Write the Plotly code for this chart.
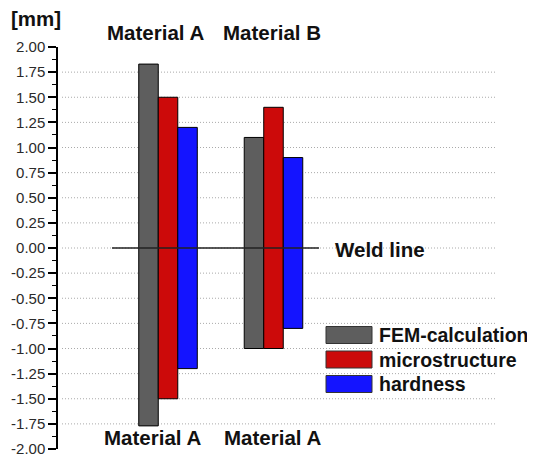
import plotly.graph_objects as go

# data
groups = [0, 1]
series = ["FEM-calculation", "microstructure", "hardness"]
colors = ["#5e5e5e", "#cc0a0a", "#1414ff"]
upper = [[1.83, 1.10], [1.50, 1.40], [1.20, 0.90]]
lower = [[-1.77, -1.00], [-1.50, -1.00], [-1.20, -0.80]]
top_labels = ["Material A", "Material B"]
bottom_labels = ["Material A", "Material A"]
y_ticks = [i * 0.25 for i in range(-8, 9)]

# page offset from the default body margin
OFF = 8
# plot area in screenshot pixels: x 58..495, y 47..449
L, R, T, B = 58, 495, 47, 449
def px(x):
    return (x - L) / (R - L)
def py(y):
    return (B - y) / (B - T)

font = "Liberation Sans, Arial, sans-serif"

fig = go.Figure()
for name, col, up, lo in zip(series, colors, upper, lower):
    fig.add_trace(go.Bar(
        x=groups, y=[u - l for u, l in zip(up, lo)], base=lo,
        name=name, marker=dict(color=col, line=dict(color="black", width=1)),
        showlegend=False,
    ))

fig.update_layout(
    width=535 - OFF, height=455 - OFF,
    margin=dict(l=L - OFF, r=535 - R, t=T - OFF, b=455 - B),
    barmode="group", bargap=0.445, bargroupgap=0,
    plot_bgcolor="white", paper_bgcolor="white",
    font=dict(family=font),
)

fig.update_xaxes(range=[-1.043, 3.10], showticklabels=False, showgrid=False,
                 zeroline=False, showline=False, ticks="", automargin=False)
fig.update_yaxes(
    range=[-2, 2], tickvals=y_ticks, ticktext=[f"{v:.2f}" for v in y_ticks],
    showline=True, linecolor="black", linewidth=1.5,
    ticks="outside", ticklen=8, tickwidth=1.5, tickcolor="black",
    tickfont=dict(size=15, color="#2a2a2a", family=font),
    ticklabeloverflow="allow",
    showgrid=False, zeroline=False, automargin=False,
    minor=dict(dtick=0.125, tick0=0, ticks="outside", ticklen=4, tickwidth=1.2,
               tickcolor="black", showgrid=False),
)

# dotted gridlines, none at the range ends
for v in y_ticks[1:-1]:
    fig.add_shape(type="line", xref="paper", yref="y", x0=px(62), x1=1, y0=v, y1=v,
                  line=dict(color="#aaaaaa", width=1, dash="1px,2px"), layer="below")

# weld line
fig.add_shape(type="line", xref="paper", yref="y", x0=px(112), x1=px(319), y0=0, y1=0,
              line=dict(color="#222", width=1.5), layer="above")

bold = dict(family=font, size=20.5, color="#111")
ann = [("[mm]", 36, 18), ("Weld line", 380, 249)]
ann += [(t, x, 32) for t, x in zip(top_labels, [155, 272])]
ann += [(t, x, 437) for t, x in zip(bottom_labels, [152, 272])]
for text, x, y in ann:
    fig.add_annotation(text=f"<b>{text}</b>", xref="paper", yref="paper",
                       x=px(x), y=py(y), xanchor="center", yanchor="middle",
                       showarrow=False, font=bold)

# legend drawn by hand
for i, (name, col) in enumerate(zip(series, colors)):
    yc = 335 + i * 24.5
    fig.add_shape(type="rect", xref="paper", yref="paper",
                  x0=px(326), x1=px(372), y0=py(yc - 8.5), y1=py(yc + 8.5),
                  fillcolor=col, line=dict(color="#333", width=1))
    fig.add_annotation(text=f"<b>{name}</b>", xref="paper", yref="paper",
                       x=px(377), y=py(yc), xanchor="left", yanchor="middle",
                       showarrow=False, font=dict(bold, size=19.5))

fig.write_html("out.html")
